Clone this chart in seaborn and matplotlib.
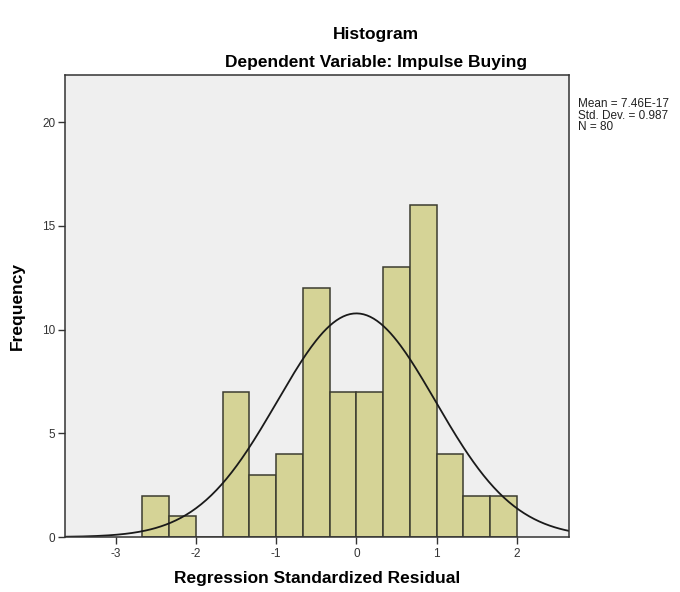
import numpy as np
import pandas as pd
import matplotlib
matplotlib.use("Agg")
import matplotlib.pyplot as plt
import seaborn as sns

# histogram of regression standardized residuals (bin width 1/3)
bin_edges = [-8/3, -7/3, -2, -5/3, -4/3, -1, -2/3, -1/3, 0, 1/3, 2/3, 1, 4/3, 5/3, 2]
counts = [2, 1, 0, 7, 3, 4, 12, 7, 7, 13, 16, 4, 2, 2]
resid_mean = 7.46e-17
resid_sd = 0.987
n_obs = 80

sns.set_style("white")
plt.rcParams['font.family'] = ['Liberation Sans', 'DejaVu Sans']
plt.rcParams['axes.unicode_minus'] = False
plt.rcParams['text.color'] = 'black'

centers = [(a + b) / 2 for a, b in zip(bin_edges[:-1], bin_edges[1:])]
df = pd.DataFrame({'resid': centers, 'count': counts})

fig = plt.figure(figsize=(6.8, 5.92), dpi=100)
ax = fig.add_axes([65/680, 55/592, 504/680, 462/592])
ax.set_facecolor('#efefef')

sns.histplot(data=df, x='resid', weights='count', bins=bin_edges, ax=ax,
             color='#d5d396', alpha=1, edgecolor='#3c3c30', linewidth=1.1)

# normal curve scaled to frequency
xs = np.linspace(-3.64, 2.66, 300)
width = bin_edges[1] - bin_edges[0]
ys = n_obs * width * np.exp(-0.5 * ((xs - resid_mean) / resid_sd) ** 2) / (resid_sd * np.sqrt(2 * np.pi))
sns.lineplot(x=xs, y=ys, ax=ax, color='#1a1a1a', linewidth=1.3)

ax.set_xlim(-3.632, 2.65)
ax.set_ylim(0, 22.27)
ax.set_xticks([-3, -2, -1, 0, 1, 2])
ax.set_yticks([0, 5, 10, 15, 20])
ax.tick_params(axis='both', bottom=True, left=True, direction='out', length=5, width=1,
               labelsize=8.5, colors='#333333', labelcolor='#333333', pad=2)
ax.tick_params(axis='x', pad=3)
for s in ax.spines.values():
    s.set_color('#333333')
    s.set_linewidth(1.1)

ax.set_xlabel('Regression Standardized Residual', fontsize=12.5, fontweight='bold',
              labelpad=8, color='black')
ax.set_ylabel('Frequency', fontsize=12.5, fontweight='bold', labelpad=12, color='black')

fig.text(376/680, 1 - 35/592, 'Histogram', ha='center', va='center', fontsize=12.5, fontweight='bold')
fig.text(376/680, 1 - 62/592, 'Dependent Variable: Impulse Buying', ha='center', va='center',
         fontsize=12.5, fontweight='bold')
fig.text(578/680, 1 - 98/592, f'Mean = 7.46E-17\nStd. Dev. = {resid_sd}\nN = {n_obs}',
         ha='left', va='top', fontsize=8.5, linespacing=0.95, color='#222222')

fig.savefig('out.png', dpi=100, facecolor='white')
